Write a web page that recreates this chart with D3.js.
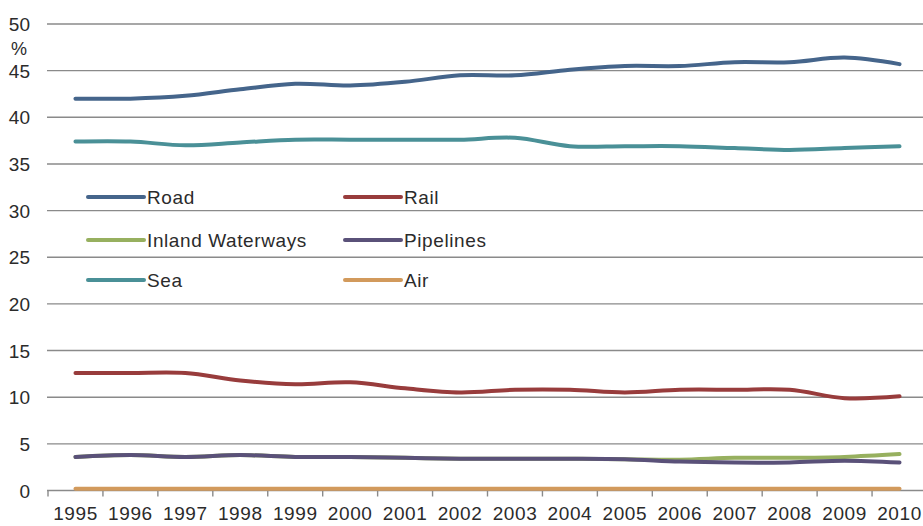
<!DOCTYPE html>
<html>
<head>
<meta charset="utf-8">
<script src="https://cdn.jsdelivr.net/npm/d3@7/dist/d3.min.js"></script>
<style>
  html, body { margin: 0; padding: 0; background: #fff; }
  svg { display: block; }
  text { font-family: "Liberation Sans", Arial, sans-serif; fill: #2b2b2b; }
</style>
</head>
<body>
<svg id="chart" width="923" height="526"></svg>
<script>
// Share of freight transport by mode, %
const years = ["1995","1996","1997","1998","1999","2000","2001","2002","2003","2004","2005","2006","2007","2008","2009","2010"];
const road      = [42.0, 42.0, 42.3, 43.0, 43.6, 43.4, 43.8, 44.5, 44.5, 45.1, 45.5, 45.5, 45.9, 45.9, 46.4, 45.7];
const rail      = [12.6, 12.6, 12.6, 11.8, 11.4, 11.6, 10.95, 10.5, 10.8, 10.8, 10.5, 10.8, 10.8, 10.8, 9.9, 10.1];
const inland    = [3.6, 3.8, 3.6, 3.8, 3.6, 3.6, 3.5, 3.4, 3.4, 3.4, 3.35, 3.3, 3.5, 3.5, 3.6, 3.9];
const pipelines = [3.6, 3.8, 3.6, 3.8, 3.6, 3.6, 3.5, 3.4, 3.4, 3.4, 3.35, 3.1, 3.0, 3.0, 3.2, 3.0];
const sea       = [37.4, 37.4, 37.0, 37.3, 37.6, 37.6, 37.6, 37.6, 37.8, 36.9, 36.9, 36.9, 36.7, 36.5, 36.7, 36.9];
const air       = [0.2, 0.2, 0.2, 0.2, 0.2, 0.2, 0.2, 0.2, 0.2, 0.2, 0.2, 0.2, 0.2, 0.2, 0.2, 0.2];
const yTicks = [0, 5, 10, 15, 20, 25, 30, 35, 40, 45, 50];

const series = [
  { name: "Road",             values: road,      color: "#45658b" },
  { name: "Rail",             values: rail,      color: "#983c3c" },
  { name: "Inland Waterways", values: inland,    color: "#97b05f" },
  { name: "Pipelines",        values: pipelines, color: "#5a5179" },
  { name: "Sea",              values: sea,       color: "#4a9097" },
  { name: "Air",              values: air,       color: "#d29a5c" }
];

const svg = d3.select("#chart");

const x = d3.scaleBand().domain(years).range([48, 927]).padding(0);
const y = d3.scaleLinear().domain([0, 50]).range([490.5, 24]);

// horizontal gridlines
svg.append("g")
  .selectAll("line")
  .data(yTicks.filter(d => d > 0))
  .join("line")
  .attr("x1", 47).attr("x2", 923)
  .attr("y1", d => y(d)).attr("y2", d => y(d))
  .attr("stroke", "#8a8a8a").attr("stroke-width", 1.4);

// y tick labels
svg.append("g")
  .selectAll("text")
  .data(yTicks)
  .join("text")
  .attr("x", 30)
  .attr("y", d => y(d) + 7)
  .attr("text-anchor", "end")
  .attr("font-size", 19)
  .text(d => d);

svg.append("text")
  .attr("x", 19).attr("y", 55)
  .attr("text-anchor", "middle")
  .attr("font-size", 18)
  .text("%");

// x axis with ticks between categories
const gx = svg.append("g").attr("transform", `translate(0,${y(0)})`);
gx.append("line")
  .attr("x1", 47).attr("x2", 923)
  .attr("stroke", "#8a8a8a").attr("stroke-width", 1.4);
gx.selectAll("line.tick")
  .data(years)
  .join("line")
  .attr("class", "tick")
  .attr("x1", d => x(d)).attr("x2", d => x(d))
  .attr("y1", 0).attr("y2", 6)
  .attr("stroke", "#8a8a8a").attr("stroke-width", 1.4);
gx.selectAll("text.lbl")
  .data(years)
  .join("text")
  .attr("class", "lbl")
  .attr("x", d => x(d) + x.bandwidth() / 2)
  .attr("y", 29)
  .attr("text-anchor", "middle")
  .attr("font-size", 19)
  .attr("letter-spacing", 0.6)
  .text(d => d);

// series lines
const line = d3.line()
  .x((d, i) => x(years[i]) + x.bandwidth() / 2)
  .y(d => y(d))
  .curve(d3.curveCatmullRom.alpha(0.5));

svg.append("g")
  .selectAll("path")
  .data(series)
  .join("path")
  .attr("d", d => line(d.values))
  .attr("fill", "none")
  .attr("stroke", d => d.color)
  .attr("stroke-width", 4)
  .attr("stroke-linecap", "round")
  .attr("stroke-linejoin", "round");

// legend, two columns
const legendX = [88, 345];
const legendY = [197, 240, 280];
const lg = svg.append("g")
  .selectAll("g")
  .data(series)
  .join("g")
  .attr("transform", (d, i) => `translate(${legendX[i % 2]},${legendY[Math.floor(i / 2)]})`);
lg.append("line")
  .attr("x1", 0).attr("x2", 56)
  .attr("stroke", d => d.color)
  .attr("stroke-width", 4)
  .attr("stroke-linecap", "round");
lg.append("text")
  .attr("x", 59).attr("y", 7)
  .attr("font-size", 19)
  .attr("letter-spacing", 0.6)
  .text(d => d.name);
</script>
</body>
</html>
